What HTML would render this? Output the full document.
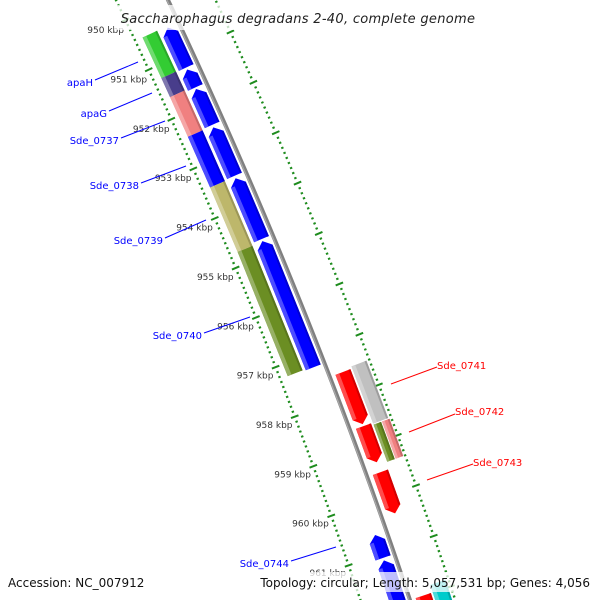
<!DOCTYPE html>
<html><head><meta charset="utf-8"><style>
html,body{margin:0;padding:0;background:#fff;overflow:hidden}
svg{display:block}
text{font-family:"DejaVu Sans","Liberation Sans",sans-serif}
</style></head><body>
<svg id="map" width="600" height="600" viewBox="0 0 600 600" xmlns="http://www.w3.org/2000/svg" style="overflow:hidden">
<g id="tracks"></g>
<g id="labels">
<line x1="95" y1="80" x2="138" y2="62" stroke="#0000ff" stroke-width="1"/>
<text x="93" y="86" font-size="10" fill="#0000ff" text-anchor="end">apaH</text>
<line x1="109" y1="111" x2="152" y2="93" stroke="#0000ff" stroke-width="1"/>
<text x="107" y="117" font-size="10" fill="#0000ff" text-anchor="end">apaG</text>
<line x1="121" y1="138" x2="165" y2="121" stroke="#0000ff" stroke-width="1"/>
<text x="119" y="144" font-size="10" fill="#0000ff" text-anchor="end">Sde_0737</text>
<line x1="141" y1="183" x2="186" y2="166" stroke="#0000ff" stroke-width="1"/>
<text x="139" y="189" font-size="10" fill="#0000ff" text-anchor="end">Sde_0738</text>
<line x1="165" y1="238" x2="206" y2="220" stroke="#0000ff" stroke-width="1"/>
<text x="163" y="244" font-size="10" fill="#0000ff" text-anchor="end">Sde_0739</text>
<line x1="204" y1="333" x2="250" y2="317" stroke="#0000ff" stroke-width="1"/>
<text x="202" y="339" font-size="10" fill="#0000ff" text-anchor="end">Sde_0740</text>
<line x1="291" y1="561" x2="336" y2="547" stroke="#0000ff" stroke-width="1"/>
<text x="289" y="567" font-size="10" fill="#0000ff" text-anchor="end">Sde_0744</text>
<line x1="391" y1="384" x2="437" y2="367" stroke="#ff0000" stroke-width="1"/>
<text x="437" y="369" font-size="10" fill="#ff0000">Sde_0741</text>
<line x1="409" y1="432" x2="455" y2="414" stroke="#ff0000" stroke-width="1"/>
<text x="455" y="415" font-size="10" fill="#ff0000">Sde_0742</text>
<line x1="427" y1="480" x2="473" y2="464" stroke="#ff0000" stroke-width="1"/>
<text x="473" y="466" font-size="10" fill="#ff0000">Sde_0743</text>
</g>
<rect x="114" y="5" width="370" height="25" fill="#fff" opacity="0.75"/>
<text x="298" y="23" font-size="13" font-style="italic" fill="#222" text-anchor="middle" style="letter-spacing:0.3px">Saccharophagus degradans 2-40, complete genome</text>
<rect x="4" y="572" width="144" height="20" fill="#fff" opacity="0.75"/>
<text x="8" y="587" font-size="12" fill="#111">Accession: NC_007912</text>
<rect x="256" y="572" width="338" height="20" fill="#fff" opacity="0.75"/>
<text x="590" y="587" font-size="12" fill="#111" text-anchor="end">Topology: circular; Length: 5,057,531 bp; Genes: 4,056</text>
</svg>
<script>
// gene data (kbp)
const geneStarts = [950.42, 951.24, 951.62, 952.42, 953.44, 954.74,
  950.45, 951.29, 951.68, 952.45, 953.47, 954.73, 960.62, 961.13,
  949.0, 957.54, 958.62, 959.54, 962.0,
  949.0, 957.50, 958.66, 958.66, 961.85];
const geneEnds = [951.24, 951.62, 952.42, 953.44, 954.74, 957.24,
  951.25, 951.65, 952.40, 953.42, 954.69, 957.26, 961.08, 962.4,
  950.10, 958.58, 959.34, 960.36, 962.6,
  950.05, 958.64, 959.40, 959.40, 962.6];
const geneRows = [-31,-31,-31,-31,-31,-31,
  -12,-12,-12,-12,-12,-12,-12,-12,
  14,14,14,14,14,
  32,32,28,37,32];
const geneColors = ["#33cc33","#483d8b","#f08080","#0000ff","#bdb76b","#6b8e23",
  "#0000ff","#0000ff","#0000ff","#0000ff","#0000ff","#0000ff","#0000ff","#0000ff",
  "#ff0000","#ff0000","#ff0000","#ff0000","#ff0000",
  "#6b8e23","#c0c0c0","#6b8e23","#f08080","#00cccc"];
const geneArrows = [0,0,0,0,0,0, -1,-1,-1,-1,-1,-1,-1,-1, 1,1,1,1,1, 0,0,0,0,0];
const tickStart = 949;
const tickEnd = 963;
const tickLabels = ["950 kbp","951 kbp","952 kbp","953 kbp","954 kbp","955 kbp","956 kbp","957 kbp","958 kbp","959 kbp","960 kbp","961 kbp"];
const tickLabelValues = [950,951,952,953,954,955,956,957,958,959,960,961];

const NS = "http://www.w3.org/2000/svg";
const g = document.getElementById("tracks");
function yOf(k){ return (k-950)*50; }
function bb(k){
  const t = yOf(k)/600;
  const x = 168*(1-t)*(1-t) + 2*t*(1-t)*310 + 410*t*t;
  const dx = 2*(1-t)*(310-168) + 2*t*(410-310);
  const dy = 600;
  const L = Math.hypot(dx,dy);
  return {x:x, y:600*t, nx:dy/L, ny:-dx/L};
}
function P(k,d){ const b=bb(k); return [b.x+d*b.nx, b.y+d*b.ny]; }
function mk(tag, attrs){ const e=document.createElementNS(NS,tag); for(const a in attrs) e.setAttribute(a,attrs[a]); g.appendChild(e); return e; }
function lighten(hex,f){
  const n=parseInt(hex.slice(1),16); let r=n>>16,gg=(n>>8)&255,b=n&255;
  r=Math.round(r+(255-r)*f); gg=Math.round(gg+(255-gg)*f); b=Math.round(b+(255-b)*f);
  return "rgb("+r+","+gg+","+b+")";
}
function darken(hex,f){
  const n=parseInt(hex.slice(1),16); return "rgb("+Math.round((n>>16)*f)+","+Math.round(((n>>8)&255)*f)+","+Math.round((n&255)*f)+")";
}

[-47, 43].forEach(function(off){
  for(let i=Math.round(tickStart*10); i<=Math.round(tickEnd*10); i++){
    const k=i/10; const b=bb(k); const c=P(k,off);
    const major = (i%10===0);
    const len = major?4:1.2;
    const ln = mk("line",{x1:c[0]-len*b.nx, y1:c[1]-len*b.ny, x2:c[0]+len*b.nx, y2:c[1]+len*b.ny, stroke:"#1e8c1e", "stroke-width":2});
    
    
  }
});
tickLabelValues.forEach(function(v,i){
  const c=P(v,-69);
  const t=mk("text",{x:c[0], y:c[1]+3.5, "font-size":9, fill:"#333", "text-anchor":"middle"});
  t.textContent=tickLabels[i];
  
  
});
(function(){
  let pts=[], pts2=[];
  for(let k=949.6;k<=962.2;k+=0.1){ pts.push(P(k,0).join(",")); pts2.push(P(k,-1).join(",")); }
  const l=mk("polyline",{points:pts.join(" "), fill:"none", stroke:"#808080", "stroke-width":4});
  
  
  const l2=mk("polyline",{points:pts2.join(" "), fill:"none", stroke:"#a8a8a8", "stroke-width":1.2});
  
  
})();
function genePoly(s,e,o,w,arr){
  const h=0.13, a=o-w/2, b=o+w/2;
  let pts=[];
  if(arr===1){ const m=Math.max(s,e-h); pts=[P(s,a),P(m,a),P(e,o),P(m,b),P(s,b)]; }
  else if(arr===-1){ const m=Math.min(e,s+h); pts=[P(s,o),P(m,a),P(e,a),P(e,b),P(m,b)]; }
  else pts=[P(s,a),P(e,a),P(e,b),P(s,b)];
  return pts.map(p=>p.join(",")).join(" ");
}
for(let i=0;i<geneStarts.length;i++){
  const s=geneStarts[i], e=geneEnds[i], o=geneRows[i], col=geneColors[i], arr=geneArrows[i];
  const w=(o===28||o===37)?8:16;
  const p=mk("polygon",{points:genePoly(s,e,o,w,arr), fill:col});
  
  
  const hs = arr===-1 ? s+0.13 : s, he = arr===1 ? e-0.13 : e;
  if(he>hs){
    const st=Math.min(4,w/3), a=o-w/2;
    const hl=mk("polygon",{points:[P(hs,a),P(he,a),P(he,a+st),P(hs,a+st)].map(q=>q.join(",")).join(" "), fill:lighten(col,0.3)});
    
    
    const b2=o+w/2;
    const sh=mk("polygon",{points:[P(hs,b2-2),P(he,b2-2),P(he,b2),P(hs,b2)].map(q=>q.join(",")).join(" "), fill:darken(col,0.82)});
    
    
  }
}
</script>
</body></html>
